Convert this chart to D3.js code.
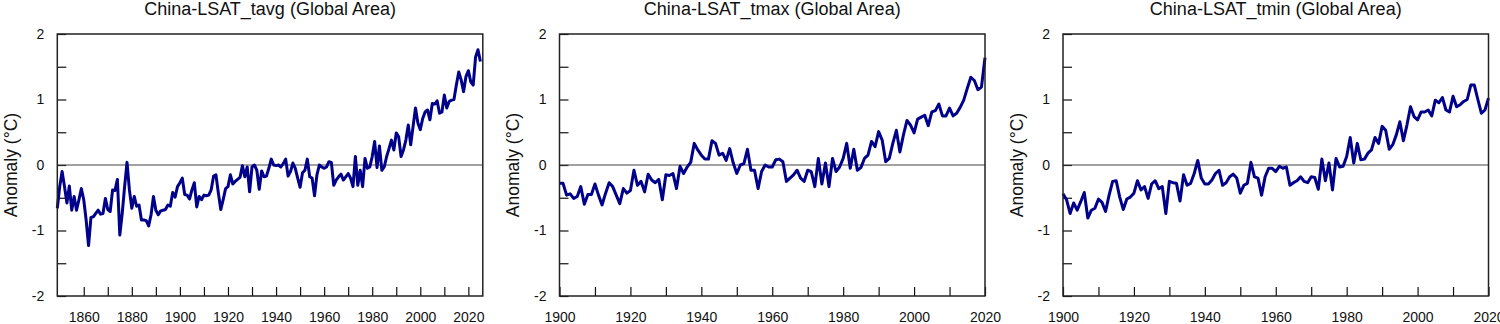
<!DOCTYPE html>
<html>
<head>
<meta charset="utf-8">
<script src="https://cdn.jsdelivr.net/npm/d3@7"></script>
<style>
	body { margin: 0; background: #fff; }
	svg { display: block; font-family: "Liberation Sans", Arial, Helvetica, sans-serif; }
</style>
</head>
<body>
<svg id="chart" width="1500" height="324"></svg>
<script>
// panel titles
var titles = ["China-LSAT_tavg (Global Area)", "China-LSAT_tmax (Global Area)", "China-LSAT_tmin (Global Area)"]

// tavg 1849-2025
var tavgStart = 1849
var tavg = [
	-0.66,
	-0.33,-0.10,-0.33,-0.58,-0.32,-0.69,-0.48,-0.69,-0.53,-0.36,
	-0.53,-0.84,-1.23,-0.80,-0.79,-0.74,-0.69,-0.75,-0.74,-0.51,
	-0.68,-0.71,-0.38,-0.39,-0.22,-1.07,-0.74,-0.33,0.04,-0.38,
	-0.66,-0.48,-0.63,-0.61,-0.84,-0.84,-0.85,-0.93,-0.76,-0.48,
	-0.69,-0.76,-0.70,-0.69,-0.68,-0.61,-0.63,-0.42,-0.49,-0.33,
	-0.27,-0.20,-0.45,-0.46,-0.52,-0.38,-0.27,-0.64,-0.48,-0.53,
	-0.46,-0.47,-0.46,-0.38,-0.17,-0.15,-0.43,-0.68,-0.53,-0.36,
	-0.33,-0.15,-0.29,-0.25,-0.22,-0.19,-0.01,-0.18,-0.03,-0.41,
	-0.03,0.00,-0.08,-0.37,-0.09,-0.18,-0.17,-0.05,0.09,0.00,
	-0.01,0.00,-0.03,0.02,0.09,-0.17,-0.10,0.03,-0.05,-0.20,
	-0.34,-0.12,-0.08,0.09,-0.18,-0.20,-0.47,-0.15,0.00,-0.03,
	-0.05,-0.03,0.05,0.04,-0.31,-0.23,-0.18,-0.14,-0.23,-0.18,
	-0.13,-0.20,-0.33,0.13,-0.31,-0.08,-0.33,0.10,-0.05,-0.03,
	0.13,0.36,-0.04,0.29,-0.08,-0.03,0.13,0.25,0.38,0.23,
	0.49,0.43,0.13,0.23,0.38,0.61,0.31,0.59,0.87,0.64,
	0.54,0.71,0.81,0.84,0.69,0.94,0.93,0.98,0.79,0.81,
	1.07,0.87,0.97,0.99,1.00,1.22,1.42,1.30,1.12,1.35,
	1.44,1.27,1.22,1.65,1.76,1.58
]

// tmax 1900-2020
var tmaxStart = 1900
var tmax = [
	-0.28,-0.28,-0.46,-0.44,-0.51,-0.48,-0.33,-0.60,-0.45,-0.45,
	-0.29,-0.46,-0.61,-0.43,-0.27,-0.33,-0.46,-0.59,-0.36,-0.43,
	-0.39,-0.08,-0.31,-0.25,-0.41,-0.14,-0.23,-0.27,-0.22,-0.53,
	-0.15,-0.16,-0.13,-0.36,-0.02,-0.13,-0.03,0.04,0.33,0.23,
	0.15,0.09,0.09,0.37,0.33,0.15,0.18,0.07,0.25,0.03,
	-0.13,0.00,0.02,0.24,-0.08,-0.08,-0.36,-0.10,0.00,-0.03,
	-0.03,0.08,0.09,0.05,-0.25,-0.20,-0.15,-0.08,-0.20,-0.25,
	-0.08,-0.10,-0.33,0.10,-0.29,0.03,-0.33,0.10,-0.10,-0.03,
	0.10,0.33,-0.05,0.24,-0.08,-0.04,0.10,0.15,0.36,0.28,
	0.51,0.38,0.05,0.10,0.33,0.53,0.20,0.46,0.68,0.61,
	0.49,0.70,0.73,0.76,0.60,0.81,0.83,0.93,0.75,0.75,
	0.87,0.75,0.79,0.88,0.99,1.17,1.34,1.29,1.15,1.19,
	1.64
]

// tmin 1900-2020
var tminStart = 1900
var tmin = [
	-0.44,-0.53,-0.74,-0.58,-0.69,-0.56,-0.42,-0.81,-0.69,-0.66,
	-0.52,-0.57,-0.71,-0.46,-0.25,-0.24,-0.49,-0.68,-0.52,-0.49,
	-0.43,-0.24,-0.38,-0.33,-0.51,-0.29,-0.24,-0.36,-0.33,-0.74,
	-0.25,-0.27,-0.28,-0.55,-0.15,-0.31,-0.28,-0.13,0.07,-0.20,
	-0.29,-0.29,-0.23,-0.13,-0.08,-0.31,-0.27,-0.18,-0.14,-0.20,
	-0.43,-0.31,-0.28,0.04,-0.18,-0.20,-0.46,-0.18,-0.05,-0.05,
	-0.10,-0.02,-0.05,-0.03,-0.31,-0.27,-0.24,-0.18,-0.25,-0.27,
	-0.18,-0.19,-0.37,0.09,-0.24,0.03,-0.38,0.10,-0.03,-0.02,
	0.13,0.42,0.03,0.33,0.08,0.09,0.18,0.23,0.42,0.33,
	0.59,0.53,0.24,0.31,0.46,0.66,0.37,0.61,0.89,0.74,
	0.69,0.81,0.81,0.84,0.75,0.99,0.95,1.03,0.84,0.81,
	1.05,0.89,0.92,0.97,1.00,1.22,1.22,1.00,0.79,0.84,
	1.02
]

var xDomains = [[1849, 2026], [1900, 2020], [1900, 2020]]
var xTicks = [d3.range(1860, 2021, 10), d3.range(1900, 2021, 10), d3.range(1900, 2021, 10)]
var xLabels = [d3.range(1860, 2021, 20), d3.range(1900, 2021, 20), d3.range(1900, 2021, 20)]
var yTicks = [-2, -1.5, -1, -0.5, 0, 0.5, 1, 1.5, 2]
var yLabels = [-2, -1, 0, 1, 2]

var series = [
	{start: tavgStart, values: tavg},
	{start: tmaxStart, values: tmax},
	{start: tminStart, values: tmin}
]

var svg = d3.select("#chart")
var lefts = [57.3, 559.5, 1063]
var plotW = 425.5, plotTop = 34, plotBottom = 296

var y = d3.scaleLinear().domain([-2, 2]).range([plotBottom, plotTop])

series.forEach(function(s, i){
	var left = lefts[i]
	var x = d3.scaleLinear().domain(xDomains[i]).range([left, left + plotW])
	var pts = s.values.map(function(v, k){ return {year: s.start + k, value: v} })
	var g = svg.append("g")

	g.append("text")
		.attr("x", left + plotW/2)
		.attr("y", 15)
		.attr("text-anchor", "middle")
		.attr("font-size", 18)
		.attr("fill", "#111")
		.text(titles[i])

	g.append("text")
		.attr("transform", "translate(" + (left - 40.5) + "," + y(0) + ") rotate(-90)")
		.attr("text-anchor", "middle")
		.attr("font-size", 17.5)
		.attr("fill", "#111")
		.text("Anomaly (°C)")

	var ya = g.append("g")
		.attr("transform", "translate(" + left + ",0)")
		.call(d3.axisLeft(y)
			.tickValues(yTicks)
			.tickSize(-9)
			.tickPadding(13)
			.tickFormat(function(d){ return yLabels.indexOf(d) >= 0 ? String(d) : "" }))
	ya.select(".domain").remove()

	var xa = g.append("g")
		.attr("transform", "translate(0," + plotBottom + ")")
		.call(d3.axisBottom(x)
			.tickValues(xTicks[i])
			.tickSize(-9)
			.tickPadding(16)
			.tickFormat(function(d){ return xLabels[i].indexOf(d) >= 0 ? String(d) : "" }))
	xa.select(".domain").remove()

	g.selectAll(".tick line").attr("stroke", "#111").attr("stroke-width", 1.2)
	g.selectAll(".tick text").attr("font-size", 14).attr("fill", "#111")
		.attr("font-family", "'Liberation Sans', Arial, Helvetica, sans-serif")

	g.append("line")
		.attr("x1", left).attr("x2", left + plotW)
		.attr("y1", y(0)).attr("y2", y(0))
		.attr("stroke", "#444")
		.attr("stroke-width", 1.2)

	g.append("path")
		.datum(pts)
		.attr("fill", "none")
		.attr("stroke", "#00008b")
		.attr("stroke-width", 3)
		.attr("stroke-linejoin", "round")
		.attr("d", d3.line()
			.x(function(d){ return x(d.year) })
			.y(function(d){ return y(d.value) }))

	g.append("rect")
		.attr("x", left).attr("y", plotTop)
		.attr("width", plotW).attr("height", plotBottom - plotTop)
		.attr("fill", "none")
		.attr("stroke", "#222")
		.attr("stroke-width", 1.5)
})
</script>
</body>
</html>
